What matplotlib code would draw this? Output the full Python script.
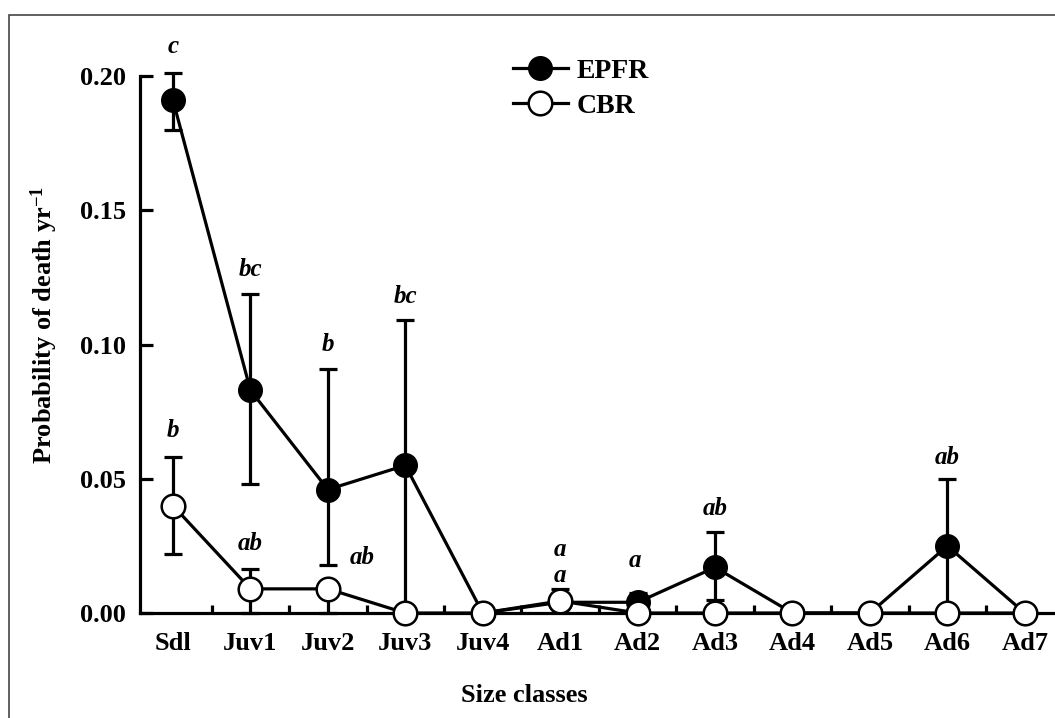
import numpy as np
import matplotlib
matplotlib.use("Agg")
import matplotlib.pyplot as plt
from matplotlib.patches import Rectangle

plt.rcParams['font.family'] = ['Liberation Serif', 'DejaVu Serif']
plt.rcParams['font.weight'] = 'bold'
plt.rcParams['axes.labelweight'] = 'bold'
plt.rcParams['mathtext.fontset'] = 'custom'
plt.rcParams['mathtext.rm'] = 'Liberation Serif:bold'
plt.rcParams['mathtext.it'] = 'Liberation Serif:bold:italic'

# data
classes = ['Sdl', 'Juv1', 'Juv2', 'Juv3', 'Juv4', 'Ad1', 'Ad2',
           'Ad3', 'Ad4', 'Ad5', 'Ad6', 'Ad7']
epfr = [0.191, 0.083, 0.046, 0.055, 0.0, 0.004, 0.004, 0.017, 0.0, 0.0, 0.025, 0.0]
epfr_up = [0.010, 0.036, 0.045, 0.054, 0.0, 0.0, 0.0035, 0.013, 0.0, 0.0, 0.025, 0.0]
epfr_lo = [0.011, 0.035, 0.028, 0.055, 0.0, 0.0, 0.004, 0.012, 0.0, 0.0, 0.025, 0.0]
cbr = [0.040, 0.009, 0.009, 0.0, 0.0, 0.0045, 0.0, 0.0, 0.0, 0.0, 0.0, 0.0]
cbr_up = [0.018, 0.0075, 0.0, 0.0, 0.0, 0.0045, 0.0, 0.0, 0.0, 0.0, 0.0, 0.0]
cbr_lo = [0.018, 0.009, 0.009, 0.0, 0.0, 0.0, 0.0, 0.0, 0.0, 0.0, 0.0, 0.0]

# significance letters: (x position, y position, text)
letter_x = [0, 1, 3, 2, 0, 1, 2.44, 5, 5, 5.97, 7, 10]
letter_y = [0.211, 0.128, 0.118, 0.100, 0.068, 0.026, 0.0205, 0.0235, 0.014, 0.0197, 0.039, 0.058]
letter_txt = ['c', 'bc', 'bc', 'b', 'b', 'ab', 'ab', 'a', 'a', 'a', 'ab', 'ab']

x = np.arange(len(classes))

fig = plt.figure(figsize=(10.55, 7.18), dpi=100)
ax = fig.add_axes([0.1327, 0.1462, 1 - 0.1327, 0.894 - 0.1462])

lw = 2.3
ax.errorbar(x, epfr, yerr=[epfr_lo, epfr_up], fmt='none', ecolor='black',
            elinewidth=lw, capsize=6.5, capthick=lw, clip_on=False, zorder=2)
ax.plot(x, epfr, '-o', color='black', lw=lw, ms=17, mfc='black', mec='black',
        clip_on=False, zorder=3, label='EPFR')
ax.errorbar(x, cbr, yerr=[cbr_lo, cbr_up], fmt='none', ecolor='black',
            elinewidth=lw, capsize=6.5, capthick=lw, clip_on=False, zorder=4)
ax.plot(x, cbr, '-o', color='black', lw=lw, ms=17, mfc='white', mec='black',
        mew=1.8, clip_on=False, zorder=5, label='CBR')

for lx, ly, t in zip(letter_x, letter_y, letter_txt):
    ax.text(lx, ly, t, ha='center', va='center', fontsize=18,
            style='italic', fontweight='bold', zorder=6)

ax.set_xlim(-0.426, 11.39)
ax.set_ylim(0, 0.20)
ax.set_xticks(x)
ax.set_xticklabels(classes)
ax.set_xticks(x[:-1] + 0.5, minor=True)
ax.set_yticks([0, 0.05, 0.10, 0.15, 0.20])
ax.set_yticklabels(['0.00', '0.05', '0.10', '0.15', '0.20'])
ax.tick_params(axis='x', which='major', length=0, labelsize=19, pad=14)
ax.tick_params(axis='x', which='minor', direction='in', length=6, width=lw)
ax.tick_params(axis='y', direction='in', length=9, width=lw, labelsize=19, pad=10)

for s in ['top', 'right']:
    ax.spines[s].set_visible(False)
for s in ['left', 'bottom']:
    ax.spines[s].set_linewidth(lw)

ax.set_xlabel('Size classes', fontsize=19, fontweight='bold')
ax.set_ylabel('Probability of death yr$^{-1}$', fontsize=19, fontweight='bold')
ax.xaxis.set_label_coords((524 - 140) / 915, -(684 - 613) / 537)
ax.yaxis.set_label_coords(-(140 - 60) / 915, (613 - 325) / 537)

ax.legend(loc='upper left', bbox_to_anchor=(0.38, 1.08), frameon=False,
          prop={'size': 20, 'weight': 'bold'}, handlelength=2.0,
          handletextpad=0.3, labelspacing=0.35)

# outer frame
fig.patches.append(Rectangle((9 / 1055, -0.1), 1.2, 1 - 15 / 718 + 0.1,
                             transform=fig.transFigure, fill=False,
                             edgecolor='#444444', lw=1.2))

fig.savefig('out.png', dpi=100)
